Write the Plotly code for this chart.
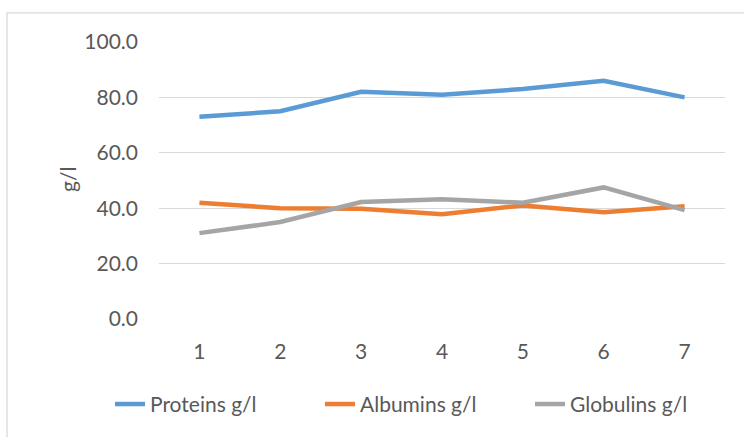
import plotly.graph_objects as go

# Sample index along the x axis
samples = [1, 2, 3, 4, 5, 6, 7]

# Serum values, g/l
proteins = [73.0, 75.0, 82.0, 81.0, 83.0, 86.0, 80.0]
albumins = [42.0, 40.0, 39.8, 37.8, 41.0, 38.5, 40.7]
globulins = [31.0, 35.0, 42.2, 43.2, 42.0, 47.5, 39.3]

y_ticks = [0, 20, 40, 60, 80, 100]

series = [
    ("Proteins g/l", proteins, "#5B9BD5"),
    ("Albumins g/l", albumins, "#ED7D31"),
    ("Globulins g/l", globulins, "#A5A5A5"),
]

FONT = "Lato, 'Open Sans', sans-serif"
TEXT = "#595959"
GRID = "#D9D9D9"

W, H = 744, 437
L, R, T, B = 159, 19, 42, 116
PW = W - L - R
PH = H - T - B

fig = go.Figure()
for name, vals, color in series:
    fig.add_trace(go.Scatter(
        x=samples, y=vals, name=name, mode="lines",
        line=dict(color=color, width=4.5),
    ))

def px_x(px):
    return (px - L) / PW

def px_y(py):
    return (H - B - py) / PH

fig.update_layout(
    width=W, height=H,
    margin=dict(l=L, r=R, t=T, b=B),
    paper_bgcolor="white", plot_bgcolor="white",
    font=dict(family=FONT, size=21, color=TEXT),
    showlegend=True,
    legend=dict(
        orientation="h", x=px_x(110), xanchor="left",
        y=px_y(407), yanchor="middle",
        font=dict(family=FONT, size=21, color=TEXT),
        itemwidth=30, tracegroupgap=0,
        entrywidth=165, entrywidthmode="pixels",
    ),
    xaxis=dict(
        range=[0.5, 7.5], tickmode="array", tickvals=samples,
        ticktext=[str(s) for s in samples],
        showgrid=False, zeroline=False, showline=False,
        ticks="", ticklabelstandoff=18,
        tickfont=dict(family=FONT, size=21, color=TEXT),
    ),
    yaxis=dict(
        range=[0, 100], tickmode="array", tickvals=y_ticks,
        ticktext=[f"{v:.1f}" for v in y_ticks],
        showgrid=True, gridcolor=GRID, gridwidth=1.3,
        zeroline=False, showline=False, ticks="",
        ticklabelstandoff=20,
        tickfont=dict(family=FONT, size=21, color=TEXT),
    ),
    annotations=[dict(
        text="g/l", textangle=-90, showarrow=False,
        xref="paper", yref="paper", x=px_x(67), y=px_y(181),
        xanchor="center", yanchor="middle",
        font=dict(family=FONT, size=21, color=TEXT),
    )],
    shapes=[dict(
        type="rect", xref="paper", yref="paper",
        x0=px_x(7), x1=px_x(760), y0=px_y(450), y1=px_y(12.7),
        line=dict(color=GRID, width=1.3), fillcolor="rgba(0,0,0,0)",
        layer="below",
    )],
)

fig.write_html("out.html")
